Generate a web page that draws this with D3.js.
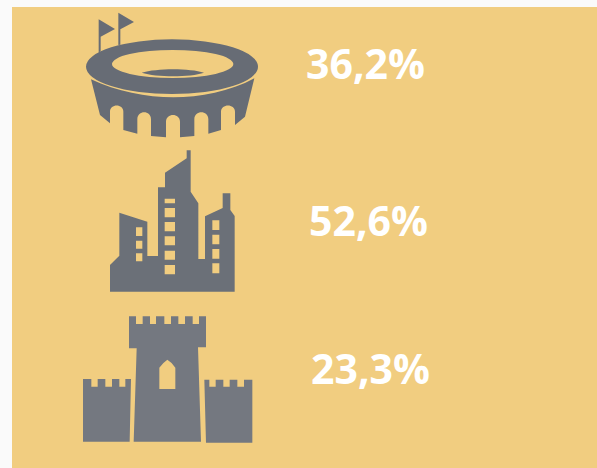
<!DOCTYPE html>
<html>
<head>
<meta charset="utf-8">
<script src="https://cdn.jsdelivr.net/npm/d3@7"></script>
<style>
html,body{margin:0;padding:0;background:#fafafa;overflow:hidden;}
</style>
</head>
<body>
<div id="viz"></div>
<script>
var categories = ["stadium","city","castle"];
var values = [36.2,52.6,23.3];

var width = 597, height = 468;
var panelColor = "#f1cd80";

// icon outlines, drawn at 3x and scaled down
var iconPaths = {
	stadium : "M116,58L165,87L122,110L122,155L116,157Z"
		+ "M175,38L222,66L181,88L181,134L175,135Z"
		+ "M78,200A258,82 0 1 1 594,200A258,82 0 1 1 78,200Z"
		+ "M156,192A182,42 0 1 0 520,192A182,42 0 1 0 156,192Z"
		+ "M245,218C290,204 390,204 432,218C390,232 290,232 245,218Z"
		+ "M93,238C170,275 260,292 340,292C420,292 510,275 583,235L555,350L525,375L525,335"
		+ "C525,310 483,310 483,335L483,390L445,401L445,358C445,330 403,330 403,358L403,408L360,412L360,365"
		+ "C360,338 318,338 318,365L318,412L273,408L273,358C273,330 232,330 232,358L232,401L190,390L190,335"
		+ "C190,310 150,310 150,335L150,370L120,345Z",
	city : "M60,455L60,375L88,347L88,218L172,245L172,348L204,348L204,142L225,142L225,98L290,55L290,31L302,31"
		+ "L302,155L325,190L325,357L345,357L345,229L398,204L398,160L421,160L421,210L434,228L434,455Z"
		+ "M138,262V288H157V262ZM138,302V326H157V302ZM138,340V364H157V340Z"
		+ "M224,176V190H255V176ZM224,204V232H255V204ZM224,246V274H255V246Z"
		+ "M224,289V316H255V289ZM224,332V359H255V332ZM224,375V403H255V375Z"
		+ "M367,241V270H388V241ZM367,284V313H388V284ZM367,327V356H388V327ZM367,370V400H388V370Z",
	castle : "M177,130L177,34L198,34L198,57L218,57L218,34L240,34L240,57L258,57L258,34L283,34L283,57L303,57L303,34"
		+ "L325,34L325,57L345,57L345,34L368,34L368,57L387,57L387,34L408,34L408,127L384,127L393,410L191,410L200,130Z"
		+ "M268,252L316,252L316,188Q306,172 292,164Q280,172 268,188Z"
		+ "M39,410L39,222L64,222L64,245L83,245L83,222L106,222L106,245L126,245L126,222L148,222L148,245L166,245L166,222L183,222L179,410Z"
		+ "M403,224L418,224L418,245L437,245L437,224L460,224L460,245L479,245L479,224L502,224L502,245L522,245L522,224L547,224L547,413L408,413Z"
};

var iconColor = d3.scaleOrdinal().domain(categories).range(["#676c75","#6b7078","#747880"]);
var iconX = d3.scaleOrdinal().domain(categories).range([60,90,70]);
var iconY = d3.scaleOrdinal().domain(categories).range([0,140,305]);
var labelX = d3.scaleOrdinal().domain(categories).range([306,309,311]);
var labelY = d3.scaleOrdinal().domain(categories).range([79,236,384]);

var fmt = d3.formatLocale({decimal:",",thousands:".",grouping:[3],currency:["","%"]}).format(".1f");

var rows = categories.map(function(c,i){
	return {cat:c,val:values[i]};
});

var svgContainer = d3.select("#viz").append("svg")
	.attr("width",width)
	.attr("height",height)
	.style("display","block");

svgContainer.append("rect")
	.attr("x",12)
	.attr("y",7)
	.attr("width",width-12)
	.attr("height",height-7)
	.style("fill",panelColor);

svgContainer.selectAll(".icon")
	.data(rows)
	.enter()
	.append("path")
	.attr("class","icon")
	.attr("transform",function(d){
		return "translate("+iconX(d.cat)+","+iconY(d.cat)+") scale("+(1/3)+")";
	})
	.attr("d",function(d){
		return iconPaths[d.cat];
	})
	.attr("fill-rule","evenodd")
	.style("fill",function(d){
		return iconColor(d.cat);
	});

svgContainer.selectAll(".label")
	.data(rows)
	.enter()
	.append("text")
	.attr("class","label")
	.attr("x",function(d){
		return labelX(d.cat);
	})
	.attr("y",function(d){
		return labelY(d.cat);
	})
	.style("font-family","'Open Sans'")
	.style("font-weight","700")
	.style("font-size","41px")
	.style("fill","#fff")
	.text(function(d){
		return fmt(d.val)+"%";
	});
</script>
</body>
</html>
